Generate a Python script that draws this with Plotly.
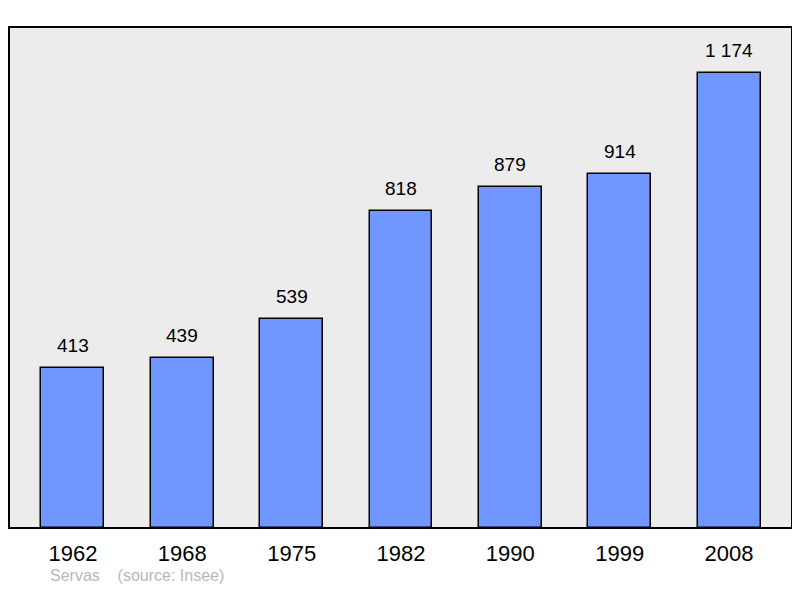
import plotly.graph_objects as go

years = ["1962", "1968", "1975", "1982", "1990", "1999", "2008"]
population = [413, 439, 539, 818, 879, 914, 1174]
labels = ["413", "439", "539", "818", "879", "914", "1 174"]

xs = list(range(len(years)))

fig = go.Figure()
fig.add_trace(go.Bar(
    x=xs, y=population, width=0.576,
    marker=dict(color="#7097ff", line=dict(color="#000000", width=1.5)),
))

# value labels above the bars
annots = [dict(x=x, y=v, text=t, showarrow=False, yanchor="bottom", yshift=10,
               font=dict(size=19, color="#000000"))
          for x, v, t in zip(xs, population, labels)]
annots.append(dict(text="Servas    (source: Insee)", xref="paper", yref="paper",
                   x=0.05, y=-0.095, xanchor="left", yanchor="middle", showarrow=False,
                   font=dict(size=16, color="#b8b8b8")))

fig.update_layout(
    width=784, height=582,
    margin=dict(l=1, r=0, t=19, b=62),
    paper_bgcolor="white", plot_bgcolor="#ececec",
    showlegend=False, bargap=0,
    font=dict(family="Liberation Sans"),
    xaxis=dict(range=[-0.585, 6.576], tickvals=xs, ticktext=years,
               tickfont=dict(size=22, color="#000000"), showgrid=False,
               zeroline=False, ticks="", ticklabelstandoff=10),
    yaxis=dict(range=[0, 1292], showticklabels=False, showgrid=False, zeroline=False),
    shapes=[dict(type="rect", xref="paper", yref="paper", x0=0, x1=1, y0=0, y1=1,
                 line=dict(color="#000000", width=2))],
    annotations=annots,
)

fig.write_html("out.html")
